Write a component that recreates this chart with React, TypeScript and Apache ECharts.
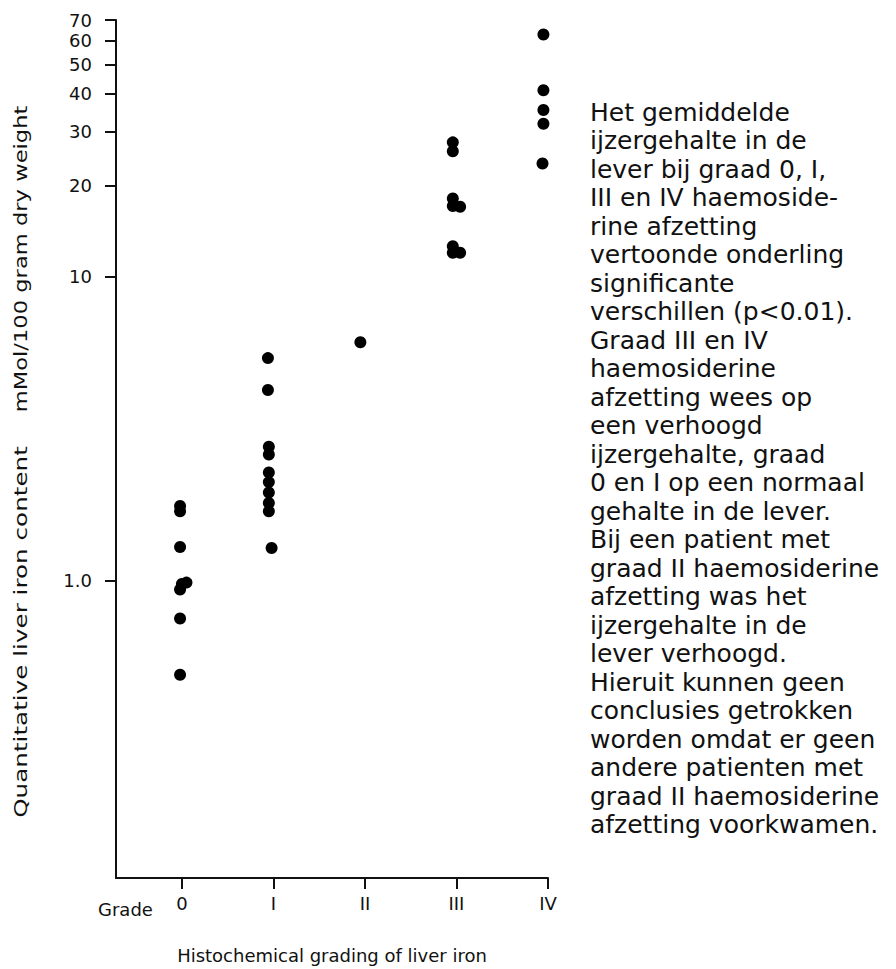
import React, { useEffect, useRef } from "react";
import * as echarts from "echarts";

// Grade categories on the x axis
const gradeLabels = ["0", "I", "II", "III", "IV"];
const gradeTicks = [0, 1, 2, 3, 4];

// y-axis tick values (log scale)
const yTickValues = [1, 10, 20, 30, 40, 50, 60, 70];

// Liver iron content per grade (mMol/100 g dry weight) with read x positions
const grade0Values = [1.76, 1.69, 1.29, 0.935, 0.975, 0.985, 0.75, 0.49];
const grade0X = [-0.02, -0.02, -0.02, -0.02, 0.0, 0.05, -0.02, -0.02];

const grade1Values = [5.4, 4.24, 2.76, 2.6, 2.27, 2.11, 1.95, 1.8, 1.69, 1.28];
const grade1X = [0.94, 0.94, 0.95, 0.95, 0.95, 0.95, 0.95, 0.95, 0.95, 0.98];

const grade2Values = [6.09];
const grade2X = [1.95];

const grade3Values = [27.7, 25.9, 18.1, 17.1, 17.0, 12.6, 12.0, 12.0];
const grade3X = [2.96, 2.96, 2.96, 2.96, 3.04, 2.96, 2.96, 3.04];

const grade4Values = [62.7, 41.1, 35.4, 31.9, 23.6];
const grade4X = [3.95, 3.95, 3.95, 3.95, 3.94];

const yNameParts = ["Quantitative liver iron content", "mMol/100 gram dry weight"];
const xName = "Histochemical grading of liver iron";
const gradeWord = "Grade";

const noteLines = [
  "Het gemiddelde",
  "ijzergehalte in de",
  "lever bij graad 0, I,",
  "III en IV haemoside-",
  "rine afzetting",
  "vertoonde onderling",
  "significante",
  "verschillen (p<0.01).",
  "Graad III en IV",
  "haemosiderine",
  "afzetting wees op",
  "een verhoogd",
  "ijzergehalte, graad",
  "0 en I op een normaal",
  "gehalte in de lever.",
  "Bij een patient met",
  "graad II haemosiderine",
  "afzetting was het",
  "ijzergehalte in de",
  "lever verhoogd.",
  "Hieruit kunnen geen",
  "conclusies getrokken",
  "worden omdat er geen",
  "andere patienten met",
  "graad II haemosiderine",
  "afzetting voorkwamen.",
];

function pairs(xs: number[], ys: number[]) {
  return ys.map((v, i) => [xs[i], v]);
}

export default function App() {
  const ref = useRef<HTMLDivElement>(null);
  useEffect(() => {
    if (!ref.current) return;
    const chart = echarts.init(ref.current, null, { renderer: "svg" });
    const font = "DejaVu Sans";
    const ink = "#111";
    const data = [
      ...pairs(grade0X, grade0Values),
      ...pairs(grade1X, grade1Values),
      ...pairs(grade2X, grade2Values),
      ...pairs(grade3X, grade3Values),
      ...pairs(grade4X, grade4Values),
    ];
    chart.setOption({
      animation: false,
      backgroundColor: "#fff",
      grid: { left: 116, top: 20, right: 348, bottom: 86, containLabel: false },
      xAxis: {
        type: "value",
        min: -0.72,
        max: 4,
        name: xName,
        nameLocation: "middle",
        nameGap: 68,
        nameTextStyle: { fontFamily: font, fontSize: 18, color: ink },
        axisLine: { show: true, onZero: false, lineStyle: { color: ink, width: 2 } },
        axisTick: { show: true, inside: false, length: 11, lineStyle: { color: ink, width: 2 }, customValues: gradeTicks },
        axisLabel: {
          customValues: gradeTicks,
          formatter: (v: number) => gradeLabels[Math.round(v)] ?? "",
          fontFamily: font,
          fontSize: 18,
          color: ink,
          margin: 16,
        },
        splitLine: { show: false },
      },
      yAxis: {
        type: "log",
        logBase: 10,
        min: 0.105,
        max: 70,
        axisLine: { show: true, onZero: false, lineStyle: { color: ink, width: 2 } },
        axisTick: { show: true, inside: false, length: 11, lineStyle: { color: ink, width: 2 }, customValues: yTickValues },
        axisLabel: {
          customValues: yTickValues,
          formatter: (v: number) => (Math.abs(v - 1) < 1e-9 ? "1.0" : String(Math.round(v))),
          fontFamily: font,
          fontSize: 18,
          color: ink,
          margin: 24,
        },
        splitLine: { show: false },
        minorTick: { show: false },
      },
      series: [
        {
          type: "scatter",
          data,
          symbol: "circle",
          symbolSize: 12,
          itemStyle: { color: "#000", opacity: 1 },
        },
      ],
      graphic: [
        {
          type: "text",
          left: 98,
          top: 900,
          style: { text: gradeWord, fontFamily: font, fontSize: 18, fill: ink },
        },
        {
          type: "text",
          x: 21,
          y: 632,
          rotation: Math.PI / 2,
          scaleX: 1.45,
          style: {
            text: yNameParts[0],
            fontFamily: font,
            fontSize: 17,
            fill: ink,
            align: "center",
            verticalAlign: "middle",
          },
        },
        {
          type: "text",
          x: 21,
          y: 259,
          rotation: Math.PI / 2,
          scaleX: 1.33,
          style: {
            text: yNameParts[1],
            fontFamily: font,
            fontSize: 17,
            fill: ink,
            align: "center",
            verticalAlign: "middle",
          },
        },
        {
          type: "text",
          x: 590,
          y: 98,
          style: {
            text: noteLines.join("\n"),
            fontFamily: font,
            fontSize: 25,
            lineHeight: 28.5,
            fill: ink,
            align: "left",
            verticalAlign: "top",
          },
        },
      ],
    });
    return () => chart.dispose();
  }, []);
  return (
    <div
      ref={ref}
      style={{ position: "fixed", left: 0, top: 0, width: 896, height: 969, background: "#fff" }}
    />
  );
}
